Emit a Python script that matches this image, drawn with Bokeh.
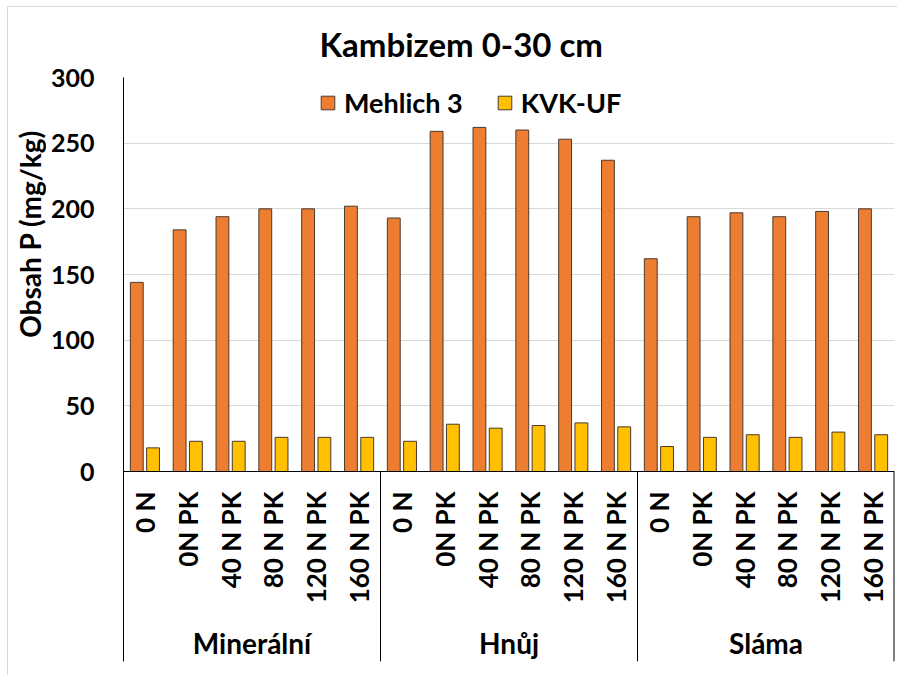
import math
from bokeh.plotting import figure
from bokeh.layouts import row
from bokeh.models import (FactorRange, Range1d, FixedTicker, ColumnDataSource, Legend,
                          LegendItem)
from bokeh.transform import dodge
from bokeh.core.properties import value
from bokeh.embed import file_html
from bokeh.resources import INLINE

# ---- data ----
groups = ["Minerální", "Hnůj", "Sláma"]
treatments = ["0 N", "0N PK", "40 N PK", "80 N PK", "120 N PK", "160 N PK"]
mehlich3 = [144, 184, 194, 200, 200, 202,
            193, 259, 262, 260, 253, 237,
            162, 194, 197, 194, 198, 200]
kvk_uf = [18, 23, 23, 26, 26, 26,
          23, 36, 33, 35, 37, 34,
          19, 26, 28, 26, 30, 28]
y_ticks = [0, 50, 100, 150, 200, 250, 300]
series_names = ["Mehlich 3", "KVK-UF"]
title_text = "Kambizem 0-30 cm"
y_title = "Obsah P  (mg/kg)"

FONT = "Lato"
factors = [(g, t) for g in groups for t in treatments]
src = ColumnDataSource(dict(x=factors, m=mehlich3, k=kvk_uf, lab=[f[1] for f in factors]))

# ---- geometry (pixels) ----
PLOT_H = 394          # height of the value area (0..300)
LABEL_H = 190         # height of the category label area below it
U = y_ticks[-1] / PLOT_H   # data units per pixel
y_bottom = -LABEL_H * U

xr = FactorRange(*factors, factor_padding=0, group_padding=0, range_padding=0)
yr = Range1d(y_bottom, y_ticks[-1])

# ---------------- main plot ----------------
p = figure(x_range=xr, y_range=yr, width=851, height=668,
           output_backend="svg", toolbar_location=None,
           min_border_left=77, min_border_right=3, min_border_top=70, min_border_bottom=14)
p.outline_line_color = None
p.xaxis.visible = False

p.title.text = title_text
p.title.align = "left"
p.title.offset = 196
p.title.standoff = 28
p.title.text_font = FONT
p.title.text_font_style = "bold"
p.title.text_font_size = "33px"
p.title.text_color = "black"

r1 = p.vbar(x=dodge("x", -0.19, range=xr), top="m", width=0.3, source=src,
            fill_color="#ED7D31", line_color="#4a3a30", line_width=1)
r2 = p.vbar(x=dodge("x", 0.19, range=xr), top="k", width=0.3, source=src,
            fill_color="#FFC000", line_color="#4a3a30", line_width=1)

yax = p.yaxis[0]
yax.ticker = FixedTicker(ticks=y_ticks)
yax.axis_line_color = "black"
yax.major_tick_line_color = None
yax.minor_tick_line_color = None
yax.major_tick_out = 0
yax.major_tick_in = 0
yax.major_label_standoff = 29
yax.major_label_text_font = FONT
yax.major_label_text_font_style = "bold"
yax.major_label_text_font_size = "25px"
yax.major_label_text_color = "black"

p.ygrid.grid_line_color = "#d9d9d9"
p.xgrid.grid_line_color = None

# category axis line and group separators
n = len(treatments)
sep_x = [i * n for i in range(1, len(groups) + 1)]
p.segment(x0=[0], x1=[len(factors)], y0=[0], y1=[0], line_color="black", line_width=1)
p.segment(x0=sep_x, x1=sep_x, y0=[0] * len(sep_x), y1=[y_bottom] * len(sep_x),
          line_color="black", line_width=[1, 1, 2])

# category and group labels
p.text(x="x", y=-20 * U, text="lab", source=src, angle=math.pi / 2,
       text_align="right", text_baseline="middle",
       text_font=value(FONT), text_font_style="bold", text_font_size="26px",
       text_color="black")
p.text(x=groups, y=[-171 * U] * len(groups), text=groups,
       text_align="center", text_baseline="middle",
       text_font=value(FONT), text_font_style="bold", text_font_size="28px",
       text_color="black")

legend = Legend(items=[LegendItem(label=series_names[0], renderers=[r1]),
                       LegendItem(label=series_names[1], renderers=[r2])],
                orientation="horizontal", location=(196, 352 + int(LABEL_H)),
                border_line_color=None, background_fill_alpha=0,
                padding=0, margin=0, spacing=33, label_standoff=8,
                glyph_width=17, glyph_height=17, label_height=20,
                label_text_font=FONT, label_text_font_style="bold",
                label_text_font_size="27px", label_text_color="black")
p.add_layout(legend, "center")

# ---------------- y title strip ----------------
lf = figure(x_range=Range1d(0, 38), y_range=yr, width=38, height=668,
            output_backend="svg", toolbar_location=None,
            min_border_left=0, min_border_right=0, min_border_top=70, min_border_bottom=14)
lf.outline_line_color = None
lf.xaxis.visible = False
lf.yaxis.visible = False
lf.xgrid.grid_line_color = None
lf.ygrid.grid_line_color = None
lf.text(x=[21], y=[183.5], text=[y_title], angle=math.pi / 2,
        text_align="center", text_baseline="middle",
        text_font=value(FONT), text_font_style="bold", text_font_size="28px",
        text_color="black")

layout = row(lf, p, spacing=0,
             styles={"border-left": "1px solid #d9d9d9", "border-top": "1px solid #d9d9d9",
                     "margin-left": "7px", "margin-top": "6px"})
open("out.html", "w").write(file_html(layout, INLINE))
